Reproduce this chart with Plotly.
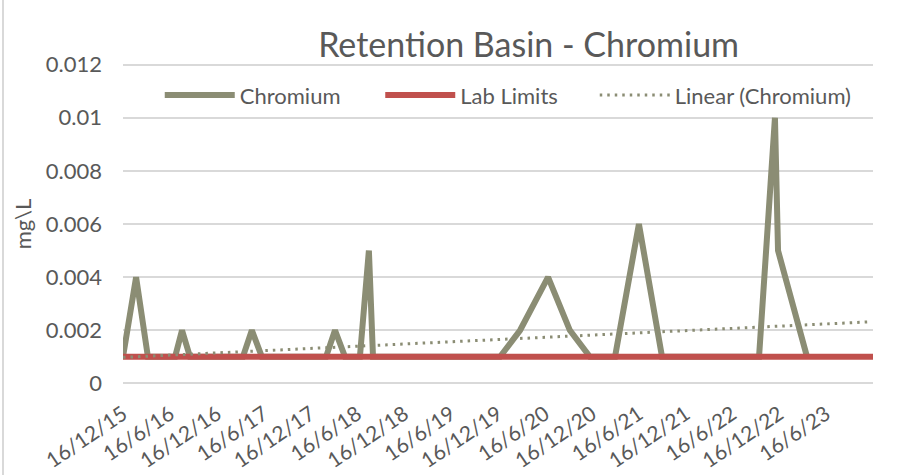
import plotly.graph_objects as go

# Chromium samples (date, mg/L)
chromium_dates = [
    "2015-12-16", "2016-02-05", "2016-03-22",
    "2016-07-06", "2016-08-02", "2016-09-02",
    "2017-03-27", "2017-05-01", "2017-06-09",
    "2018-02-14", "2018-03-21", "2018-04-29",
    "2018-06-26", "2018-07-31", "2018-08-16",
    "2019-12-24", "2020-03-11", "2020-06-28", "2020-09-21", "2020-12-08",
    "2021-03-16", "2021-06-17", "2021-09-15",
    "2022-09-28", "2022-11-29", "2022-12-11", "2023-04-03",
]
chromium_values = [
    0.001, 0.004, 0.001,
    0.001, 0.002, 0.001,
    0.001, 0.002, 0.001,
    0.001, 0.002, 0.001,
    0.001, 0.005, 0.001,
    0.001, 0.002, 0.004, 0.002, 0.001,
    0.001, 0.006, 0.001,
    0.001, 0.010, 0.005, 0.001,
]

lab_dates = ["2015-12-16", "2023-12-16"]
lab_values = [0.001, 0.001]

trend_dates = ["2015-12-16", "2023-12-10"]
trend_values = [0.00098, 0.00232]

tick_dates = [
    "2015-12-16", "2016-06-16", "2016-12-16", "2017-06-16", "2017-12-16",
    "2018-06-16", "2018-12-16", "2019-06-16", "2019-12-16", "2020-06-16",
    "2020-12-16", "2021-06-16", "2021-12-16", "2022-06-16", "2022-12-16",
    "2023-06-16",
]
tick_labels = [
    "16/12/15", "16/6/16", "16/12/16", "16/6/17", "16/12/17", "16/6/18",
    "16/12/18", "16/6/19", "16/12/19", "16/6/20", "16/12/20", "16/6/21",
    "16/12/21", "16/6/22", "16/12/22", "16/6/23",
]

FONT = "Lato"
TXT = "#595959"

fig = go.Figure()
fig.add_trace(go.Scatter(
    x=chromium_dates, y=chromium_values, mode="lines", name="Chromium",
    line=dict(color="#8b8d74", width=6), legend="legend",
))
fig.add_trace(go.Scatter(
    x=lab_dates, y=lab_values, mode="lines", name="Lab Limits",
    line=dict(color="#c0504d", width=6), legend="legend2",
))
fig.add_trace(go.Scatter(
    x=trend_dates, y=trend_values, mode="lines", name="Linear (Chromium)",
    line=dict(color="#8b8d74", width=3, dash="2.5px,5px"), legend="legend3",
))

leg_common = dict(orientation="h", y=0.90, xanchor="left", yanchor="middle",
                  font=dict(size=22, color=TXT, family=FONT), itemwidth=70,
                  bgcolor="rgba(255,255,255,0)")

fig.update_layout(
    width=899, height=475,
    margin=dict(l=123, r=26, t=63, b=90, autoexpand=False),
    paper_bgcolor="white", plot_bgcolor="white",
    font=dict(family=FONT, color=TXT),
    title=dict(text="Retention Basin - Chromium", x=0.588, xanchor="center",
               y=0.905, yanchor="middle", font=dict(size=34, color=TXT, family=FONT)),
    showlegend=True,
    legend=dict(x=0.049, **leg_common),
    legend2=dict(x=0.343, **leg_common),
    legend3=dict(x=0.629, **leg_common),
    shapes=[dict(type="line", xref="paper", yref="paper", x0=-0.16, x1=-0.16,
                 y0=-0.3, y1=1.2, line=dict(color="#d9d9d9", width=2))],
)
fig.update_xaxes(
    type="date", range=["2015-12-16", "2023-12-16"], automargin=False,
    tickvals=tick_dates, ticktext=tick_labels, tickangle=-34,
    tickfont=dict(size=21, color=TXT, family=FONT), ticklabelstandoff=12,
    showgrid=False, zeroline=False, showline=False, ticks="",
)
fig.update_yaxes(
    range=[-0.00006, 0.01206], dtick=0.002, tick0=0, automargin=False,
    showgrid=True, gridcolor="#d9d9d9", gridwidth=2,
    zeroline=False, showline=False, ticks="",
    tickfont=dict(size=22, color=TXT, family=FONT), ticklabelstandoff=20,
    title=dict(text="mg\\L", font=dict(size=22, color=TXT, family=FONT), standoff=8),
)

fig.write_html("out.html", config={"displayModeBar": False},
               post_script="document.body.style.margin='0';")
